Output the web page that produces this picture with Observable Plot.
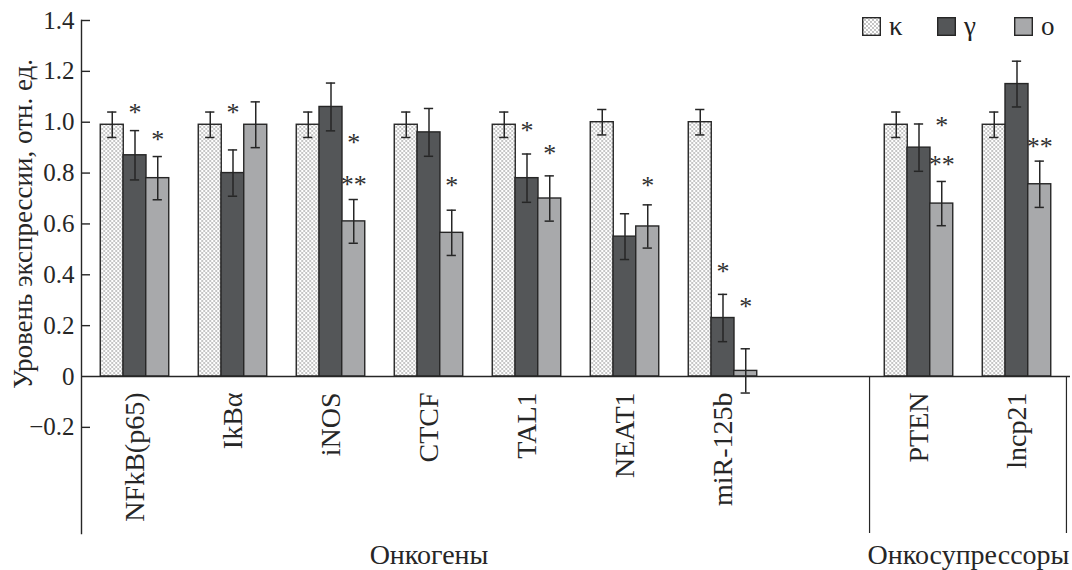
<!DOCTYPE html>
<html>
<head>
<meta charset="utf-8">
<script src="https://cdn.jsdelivr.net/npm/d3@7"></script>
<script src="https://cdn.jsdelivr.net/npm/@observablehq/plot@0.6"></script>
<style>
  html, body { margin: 0; padding: 0; background: #fff; }
  #wrap { position: relative; width: 1072px; height: 570px; font-family: "Liberation Serif", "Times New Roman", serif; color: #222; }
  .leg { position: absolute; top: 16px; display: flex; align-items: center; font-size: 27px; line-height: 20px; }
  .leg svg { display: block; margin-right: 8px; }
</style>
</head>
<body>
<svg width="0" height="0" style="position:absolute">
  <defs>
    <pattern id="dots" width="4" height="4" patternUnits="userSpaceOnUse">
      <rect width="4" height="4" fill="#ffffff"/>
      <circle cx="1" cy="1" r="0.65" fill="#5a5a5a"/>
      <circle cx="3" cy="3" r="0.65" fill="#5a5a5a"/>
    </pattern>
  </defs>
</svg>
<div id="wrap"></div>
<script>
// ---- data ----
const slots = ["NFkB(p65)", "IkBα", "iNOS", "CTCF", "TAL1", "NEAT1", "miR-125b", " ", "PTEN", "lncp21"];
const genes = ["NFkB(p65)", "IkBα", "iNOS", "CTCF", "TAL1", "NEAT1", "miR-125b", "PTEN", "lncp21"];
const series = ["κ", "γ", "o"];
const kValues = [0.99, 0.99, 0.99, 0.99, 0.99, 1.00, 1.00, 0.99, 0.99];
const kErrors = [0.05, 0.05, 0.05, 0.05, 0.05, 0.05, 0.05, 0.05, 0.05];
const gValues = [0.87, 0.80, 1.06, 0.96, 0.78, 0.55, 0.23, 0.90, 1.15];
const gErrors = [0.097, 0.091, 0.094, 0.094, 0.095, 0.09, 0.093, 0.093, 0.09];
const oValues = [0.78, 0.99, 0.61, 0.565, 0.70, 0.59, 0.022, 0.68, 0.756];
const oErrors = [0.085, 0.09, 0.086, 0.089, 0.089, 0.085, 0.087, 0.087, 0.091];
const starGenes  = ["NFkB(p65)", "NFkB(p65)", "IkBα", "iNOS", "iNOS", "CTCF", "TAL1", "TAL1", "NEAT1", "miR-125b", "miR-125b", "PTEN", "PTEN", "lncp21"];
const starSeries = ["γ", "o", "γ", "o", "o", "o", "γ", "o", "o", "γ", "o", "o", "o", "o"];
const starMarks  = ["*", "*", "*", "*", "**", "*", "*", "*", "*", "*", "*", "*", "**", "**"];
const starLevels = [1.046, 0.940, 1.046, 0.928, 0.763, 0.758, 0.976, 0.885, 0.758, 0.420, 0.282, 0.993, 0.839, 0.912];
const yTicks = [-0.2, 0, 0.2, 0.4, 0.6, 0.8, 1.0, 1.2, 1.4];
const groupNames = ["Онкогены", "Онкосупрессоры"];
const yTitle = "Уровень экспрессии, отн. ед.";

// ---- styles ----
const fills = ["url(#dots)", "#545658", "#a8a9ab"];
const W = 1072, H = 570, ML = 81, MR = 2, MT = 20, MB = 37;
const yMin = -0.6174;
const step = (W - ML - MR) / slots.length;
const padIn = 0.77;
const bw = step * (1 - padIn);
const offsets = {"κ": -bw, "γ": 0, "o": bw};
const capInset = (bw - 9) / 2;
const ink = "#262626";

const valuesBy = {"κ": [kValues, kErrors], "γ": [gValues, gErrors], "o": [oValues, oErrors]};
const rows = [];
genes.forEach((g, i) => series.forEach(s => rows.push({gene: g, series: s, value: valuesBy[s][0][i], err: valuesBy[s][1][i]})));
const stars = starGenes.map((g, i) => ({gene: g, series: starSeries[i], text: starMarks[i], level: starLevels[i]}));

const barMarks = series.map(s =>
  Plot.barY(rows.filter(r => r.series === s), {x: "gene", y: "value", fill: "series", stroke: ink, strokeWidth: 1.4, dx: offsets[s]})
);
const errMarks = series.flatMap(s => {
  const d = rows.filter(r => r.series === s);
  return [
    Plot.ruleX(d, {x: "gene", y1: r => r.value - r.err, y2: r => r.value + r.err, dx: offsets[s], stroke: ink, strokeWidth: 1.5}),
    Plot.tickY(d, {x: "gene", y: r => r.value + r.err, dx: offsets[s], insetLeft: capInset, insetRight: capInset, stroke: ink, strokeWidth: 1.5}),
    Plot.tickY(d, {x: "gene", y: r => r.value - r.err, dx: offsets[s], insetLeft: capInset, insetRight: capInset, stroke: ink, strokeWidth: 1.5})
  ];
});
const starMarksArr = series.map(s => Plot.text(stars.filter(t => t.series === s), {
  x: "gene", y: "level", text: "text", dx: offsets[s], dy: 2, lineAnchor: "middle", fontSize: 26, fill: "#303030"
}));

const chart = Plot.plot({
  width: W, height: H,
  marginLeft: ML, marginRight: MR, marginTop: MT, marginBottom: MB,
  style: {fontFamily: '"Liberation Serif", "Times New Roman", serif', fontSize: "25px", color: ink, background: "#fff", overflow: "visible"},
  x: {domain: slots, paddingInner: padIn, paddingOuter: padIn / 2, align: 0.5, axis: null},
  y: {domain: [yMin, 1.4], axis: null},
  color: {domain: series, range: fills},
  marks: [
    ...barMarks,
    Plot.ruleY([0], {stroke: ink, strokeWidth: 1.4}),
    ...errMarks,
    ...starMarksArr,
    Plot.frame({anchor: "left", stroke: ink, strokeWidth: 1.4}),
    Plot.ruleY(yTicks.filter(t => t !== 0), {stroke: ink, strokeWidth: 1.4, insetRight: (W - ML - MR) - 9}),
    Plot.axisY(yTicks, {tickSize: 0, tickPadding: 7, fontSize: 25, fill: ink,
      tickFormat: t => t === 0 ? "0" : d3.format(".1f")(t)}),
    Plot.text([yTitle], {text: d => d, frameAnchor: "left", y: () => 0.6, rotate: -90, dx: -58, textAnchor: "middle", lineAnchor: "middle", fontSize: 27, fill: ink}),
    Plot.text(genes, {x: d => d, y: () => 0, text: d => d, rotate: -90, textAnchor: "end", lineAnchor: "middle", dy: 16, fontSize: 28, fill: ink}),
    Plot.ruleX(["PTEN"], {x: d => d, y1: () => 0, y2: () => yMin, dx: -step / 2, stroke: ink, strokeWidth: 1.2}),
    Plot.ruleX(["lncp21"], {x: d => d, y1: () => 0, y2: () => yMin, dx: step / 2, stroke: ink, strokeWidth: 1.2}),
    Plot.text([groupNames[0]], {x: () => "CTCF", text: d => d, frameAnchor: "bottom", dy: 22, lineAnchor: "middle", fontSize: 28, fill: ink}),
    Plot.text([groupNames[1]], {x: () => "PTEN", text: d => d, frameAnchor: "bottom", dx: step / 2, dy: 22, lineAnchor: "middle", fontSize: 28, fill: ink})
  ]
});
const wrap = document.getElementById("wrap");
wrap.appendChild(chart);

// ---- legend (overlay, top right) ----
const legLeft = [862, 937, 1014];
series.forEach((s, i) => {
  const div = document.createElement("div");
  div.className = "leg";
  div.style.left = legLeft[i] + "px";
  div.innerHTML = `<svg width="19" height="19"><rect x="0.7" y="0.7" width="17.6" height="17.6" fill="${fills[i]}" stroke="${ink}" stroke-width="1.4"/></svg><span>${s}</span>`;
  wrap.appendChild(div);
});
</script>
</body>
</html>
